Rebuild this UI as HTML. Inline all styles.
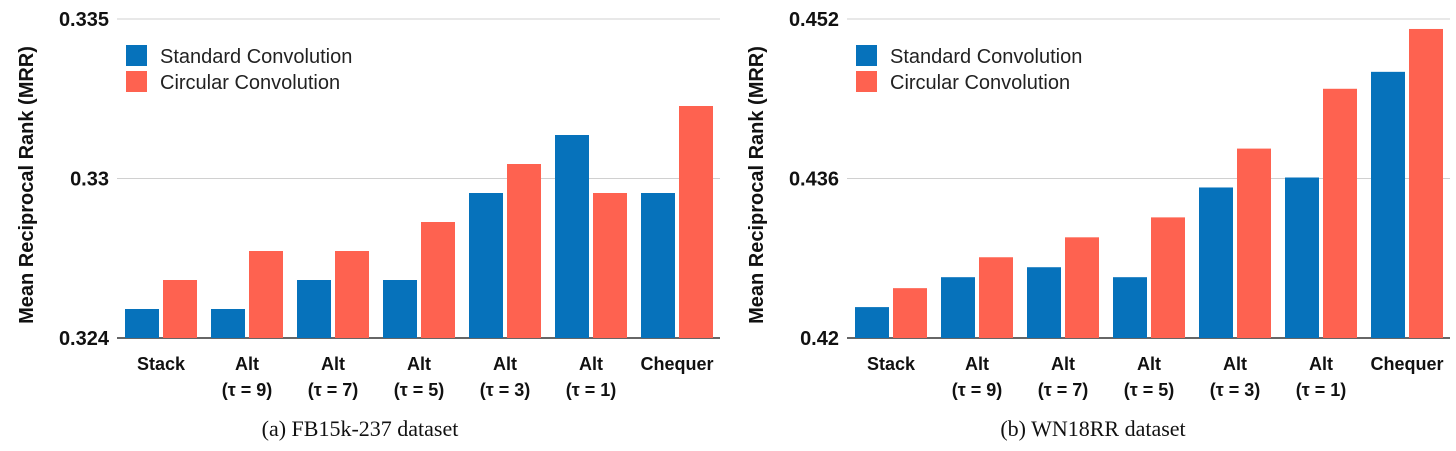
<!DOCTYPE html>
<html><head><meta charset="utf-8"><style>
body{margin:0;background:#fff;width:1456px;height:446px;overflow:hidden}
svg text{font-family:"Liberation Sans",Arial,sans-serif}
</style></head><body>
<svg id="s" width="1456" height="446" xmlns="http://www.w3.org/2000/svg"></svg>
<script>
const categories=["Stack","Alt|(τ = 9)","Alt|(τ = 7)","Alt|(τ = 5)","Alt|(τ = 3)","Alt|(τ = 1)","Chequer"];
const fbStandard=[0.3255,0.3255,0.3265,0.3265,0.3295,0.3315,0.3295];
const fbCircular=[0.3265,0.3275,0.3275,0.3285,0.3305,0.3295,0.3325];
const wnStandard=[0.4231,0.4261,0.4271,0.4261,0.4351,0.4361,0.4467];
const wnCircular=[0.4250,0.4281,0.4301,0.4321,0.4390,0.4450,0.4510];
const fbTicks=[0.3245,0.33,0.3355];const fbTickLabels=["0.324","0.33","0.335"];
const wnTicks=[0.42,0.436,0.452];const wnTickLabels=["0.42","0.436","0.452"];
const NS="http://www.w3.org/2000/svg";const s=document.getElementById('s');
function mk(t,a,p){const e=document.createElementNS(NS,t);for(const k in a)e.setAttribute(k,a[k]);(p||s).appendChild(e);return e;}
function chart(cfg){
 const g=mk('g',{});
 const y0=338,y1=19,min=cfg.ticks[0],max=cfg.ticks[cfg.ticks.length-1];
 const y=v=>y0-(v-min)/(max-min)*(y0-y1);
 cfg.ticks.forEach((t,i)=>{
  const l=mk('line',{x1:cfg.gx0,x2:cfg.gx1,y1:y(t),y2:y(t),stroke:i==0?'#333':'#d0d0d0','stroke-width':i==0?1.5:1},g);
  
  const tx=mk('text',{x:cfg.gx0-8,y:y(t)+7,'text-anchor':'end','font-size':20,'font-weight':'bold',fill:'#111'},g);tx.textContent=cfg.labels[i];
  
 });
 const yt=mk('text',{x:0,y:0,transform:`translate(${cfg.gx0-84},185) rotate(-90)`,'text-anchor':'middle','font-size':20,'font-weight':'bold',fill:'#111'},g);
 yt.textContent='Mean Reciprocal Rank (MRR)';
 categories.forEach((c,i)=>{
  const x=cfg.bx+i*86;
  [[cfg.a,'#0672bb',x],[cfg.b,'#fe6250',x+38]].forEach(([arr,col,bx],j)=>{
   const r=mk('rect',{x:bx,y:y(arr[i]),width:34,height:y0-y(arr[i]),fill:col},g);
   
  });
  c.split('|').forEach((ln,k)=>{
   const t=mk('text',{x:x+36,y:370+k*26,'text-anchor':'middle','font-size':18,'font-weight':'bold',fill:'#111'},g);t.textContent=ln;
   
  });
 });
 [['#0672bb','Standard Convolution',45],['#fe6250','Circular Convolution',71]].forEach(([col,txt,ly])=>{
  const r=mk('rect',{x:cfg.gx0+9,y:ly,width:21,height:21,fill:col},g);
  const t=mk('text',{x:cfg.gx0+43,y:ly+18,'font-size':20,fill:'#222'},g);t.textContent=txt;
 });
 const cap=mk('text',{x:cfg.cx,y:436,'text-anchor':'middle','font-size':22,fill:'#111'},g);
 cap.setAttribute('style','font-family:"Liberation Serif",serif');cap.textContent=cfg.caption;
 
}
chart({name:'fb15k-chart',ticks:fbTicks,labels:fbTickLabels,a:fbStandard,b:fbCircular,gx0:117,gx1:720,bx:125,cx:360,caption:'(a) FB15k-237 dataset'});
chart({name:'wn18rr-chart',ticks:wnTicks,labels:wnTickLabels,a:wnStandard,b:wnCircular,gx0:847,gx1:1450,bx:855,cx:1093,caption:'(b) WN18RR dataset'});
</script></body></html>
